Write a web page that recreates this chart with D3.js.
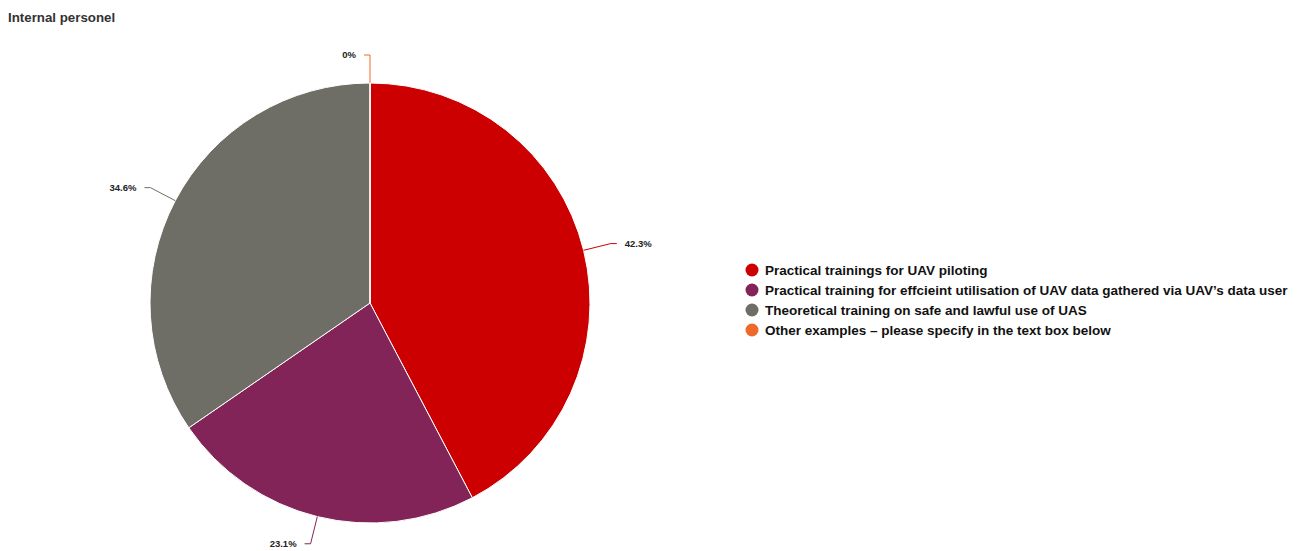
<!DOCTYPE html>
<html>
<head>
<meta charset="utf-8">
<script src="https://cdn.jsdelivr.net/npm/d3@7"></script>
<style>
  body { margin: 0; background: #fff; }
  svg { font-family: "Liberation Sans", Arial, sans-serif; }
</style>
</head>
<body>
<svg width="1297" height="551"></svg>
<script>
var categories = [
    'Practical trainings for UAV piloting',
    'Practical training for effcieint utilisation of UAV data gathered via UAV\u2019s data user',
    'Theoretical training on safe and lawful use of UAS',
    'Other examples \u2013 please specify in the text box below'
];
var values = [42.3, 23.1, 34.6, 0];
var labels = ['42.3%', '23.1%', '34.6%', '0%'];
var colors = ['#cc0000', '#822457', '#6e6e66', '#ee6a2a'];

var svg = d3.select('svg');
var cx = 370, cy = 303, radius = 220;

// title
svg.append('text')
    .attr('x', 8)
    .attr('y', 22)
    .attr('font-size', 13.3)
    .attr('font-weight', 'bold')
    .attr('fill', '#333')
    .text('Internal personel');

var data = categories.map((c, i) => ({name: c, value: values[i], label: labels[i], color: colors[i]}));

var pie = d3.pie().sort(null).value(d => d.value);
var arc = d3.arc().innerRadius(0).outerRadius(radius);
var arcs = pie(data);

var g = svg.append('g').attr('transform', 'translate(' + [cx, cy] + ')');

g.selectAll('path')
    .data(arcs)
    .enter().append('path')
    .attr('d', arc)
    .attr('fill', d => d.data.color)
    .attr('stroke', 'white')
    .attr('stroke-width', 1);

//leader lines + labels
var pt = (a, r) => [r * Math.sin(a), -r * Math.cos(a)];
arcs.forEach(d => {
    var mid = (d.startAngle + d.endAngle) / 2;
    var p1 = pt(mid, radius);
    var p2 = pt(mid, radius + 28);
    var right = Math.sin(mid) > 0.001;
    var p3 = [p2[0] + (right ? 6 : -6), p2[1]];
    g.append('polyline')
        .attr('points', [p1, p2, p3].map(p => p.join(',')).join(' '))
        .attr('fill', 'none')
        .attr('stroke', d.data.color)
        .attr('stroke-width', 1);
    g.append('text')
        .attr('x', p3[0] + (right ? 8 : -8))
        .attr('y', p3[1])
        .attr('dy', '0.35em')
        .attr('text-anchor', right ? 'start' : 'end')
        .attr('font-size', 9.5)
        .attr('font-weight', 'bold')
        .attr('fill', '#222')
        .text(d.data.label);
});

// legend
var legend = svg.append('g').attr('transform', 'translate(752,270)');
var items = legend.selectAll('g')
    .data(data)
    .enter().append('g')
    .attr('transform', (d, i) => 'translate(0,' + i * 20 + ')');
items.append('circle')
    .attr('r', 6.5)
    .attr('fill', d => d.color);
items.append('text')
    .attr('x', 13)
    .attr('dy', '0.35em')
    .attr('font-size', 13.5)
    .attr('font-weight', 'bold')
    .attr('fill', '#111')
    .text(d => d.name);
</script>
</body>
</html>
